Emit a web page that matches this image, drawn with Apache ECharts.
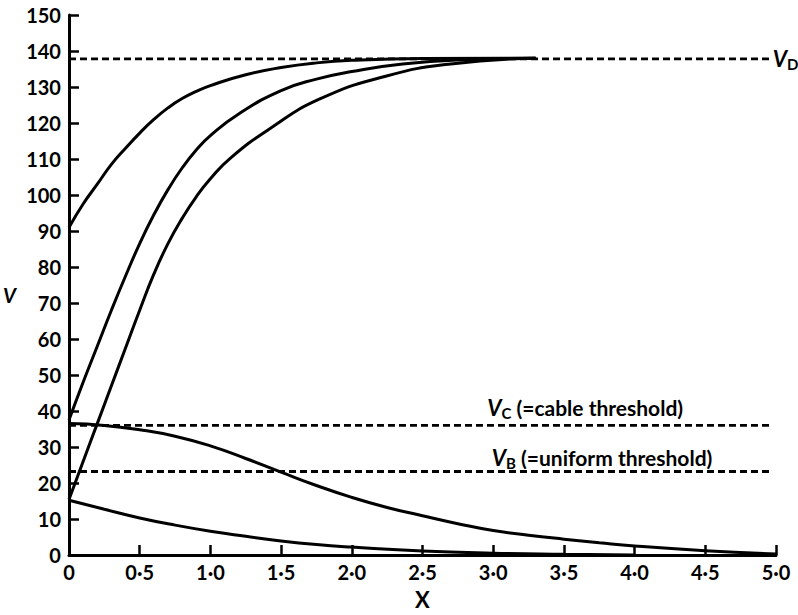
<!DOCTYPE html>
<html>
<head>
<meta charset="utf-8">
<script src="https://cdn.jsdelivr.net/npm/echarts@6/dist/echarts.min.js"></script>
<style>
  html, body { margin: 0; padding: 0; background: #fff; }
  #chart { width: 798px; height: 615px; }
</style>
</head>
<body>
<div id="chart"></div>
<script>
// curves, [X, V]
var curveA = [[0, 91], [0.1, 97.5], [0.2, 103], [0.3, 108.5], [0.4, 113], [0.5, 117.2], [0.6, 121], [0.7, 124.2],
  [0.8, 126.8], [0.9, 128.8], [1.0, 130.4], [1.25, 133.4], [1.5, 135.4], [1.75, 136.7], [2.0, 137.4], [2.5, 137.9], [3.3, 138]];
var curveB = [[0, 37.5], [0.1, 48], [0.2, 58], [0.3, 68], [0.4, 77.5], [0.5, 86.5], [0.6, 94.5], [0.7, 101.5],
  [0.8, 107.5], [0.9, 112.5], [1.0, 116.5], [1.2, 122.5], [1.5, 129], [1.75, 132.2], [2.0, 134.3], [2.36, 136.4], [2.8, 137.6], [3.3, 138]];
var curveC = [[0, 15.4], [0.1, 26], [0.2, 36.5], [0.3, 47], [0.4, 57.5], [0.5, 68], [0.6, 78], [0.7, 86.5],
  [0.8, 93.5], [0.9, 99.5], [1.0, 104.5], [1.14, 110.2], [1.42, 118.4], [1.77, 126.6], [2.24, 133], [2.7, 136.4], [3.3, 138]];
var curveD = [[0, 36.5], [0.25, 36], [0.5, 34.8], [0.75, 33], [1.0, 30.3], [1.25, 26.8], [1.5, 23], [1.75, 19.3],
  [2.0, 16], [2.25, 13.2], [2.5, 10.9], [2.75, 8.7], [3.0, 6.8], [3.25, 5.5], [3.5, 4.4], [3.75, 3.4], [4.0, 2.5],
  [4.5, 1.2], [5.0, 0.3]];
var curveE = [[0, 15.2], [0.25, 12.7], [0.5, 10.3], [0.75, 8.3], [1.0, 6.6], [1.25, 5.2], [1.5, 3.9], [1.75, 2.9],
  [2.0, 2.2], [2.5, 1.1], [3.0, 0.5], [3.5, 0.2], [4.0, 0]];

var vD = 137.8, vC = 36, vB = 23.2;
var dashEnd = [4.97, 4.96, 4.96];

var font = 'Lato, "Open Sans", sans-serif';

var chart = echarts.init(document.getElementById('chart'), null, { renderer: 'svg' });

function solid(data) {
  return {
    type: 'line', data: data, smooth: 0.5, symbol: 'none', silent: true,
    lineStyle: { color: '#000', width: 3 }
  };
}

function dashed(y, x1) {
  return {
    type: 'line', data: [[0, y], [x1, y]], symbol: 'none', silent: true,
    lineStyle: { color: '#000', width: 2.8, type: [7, 4] }
  };
}

var sub = {
  v: { fontFamily: font, fontSize: 22, fontStyle: 'italic', fontWeight: 'bold', color: '#000' },
  s: { fontFamily: font, fontSize: 15, fontWeight: 'bold', color: '#000', padding: [11, 0, 0, 0] },
  t: { fontFamily: font, fontSize: 21, fontWeight: 'bold', color: '#000' }
};

function note(coord, text) {
  return {
    coord: coord, symbol: 'circle', symbolSize: 1,
    itemStyle: { color: 'rgba(0,0,0,0)' },
    label: { show: true, position: 'inside', formatter: text, rich: sub }
  };
}

var sD = dashed(vD, dashEnd[0]);
sD.endLabel = { show: true, distance: 1, formatter: '{v|V}{s|D}', rich: sub };
var sC = dashed(vC, dashEnd[1]);
sC.markPoint = { silent: true, data: [note([3.65, 41.0], '{v|V}{s|C}{t| (=cable threshold)}')] };
var sB = dashed(vB, dashEnd[2]);
sB.markPoint = { silent: true, data: [note([3.77, 27.2], '{v|V}{s|B}{t| (=uniform threshold)}')] };

chart.setOption({
  animation: false,
  grid: { left: 65, right: 22, top: 15, bottom: 54 },
  xAxis: {
    type: 'value', min: 0, max: 5, interval: 0.5,
    name: 'X', nameLocation: 'middle', nameGap: 33,
    nameTextStyle: { fontFamily: font, fontSize: 22, fontWeight: 'bold', color: '#000' },
    axisLine: { lineStyle: { color: '#000', width: 3 } },
    axisTick: { inside: true, length: 10, lineStyle: { color: '#000', width: 2.5 } },
    axisLabel: {
      fontFamily: font, fontSize: 20, fontWeight: 'bold', color: '#000', margin: 7,
      formatter: function (v) { return v === 0 ? '0' : v.toFixed(1).replace('.', '\u00b7'); }
    },
    splitLine: { show: false }
  },
  yAxis: {
    type: 'value', min: 0, max: 150, interval: 10,
    name: 'V', nameLocation: 'middle', nameGap: 53, nameRotate: 0,
    nameTextStyle: { fontFamily: font, fontSize: 20, fontStyle: 'italic', fontWeight: 'bold', color: '#000', verticalAlign: 'top' },
    axisLine: { show: true, lineStyle: { color: '#000', width: 3 } },
    axisTick: { show: true, inside: true, length: 10, lineStyle: { color: '#000', width: 2.5 } },
    axisLabel: { fontFamily: font, fontSize: 20, fontWeight: 'bold', color: '#000', margin: 8 },
    splitLine: { show: false }
  },
  series: [sD, sC, sB, solid(curveA), solid(curveB), solid(curveC), solid(curveD), solid(curveE)]
});
</script>
</body>
</html>
